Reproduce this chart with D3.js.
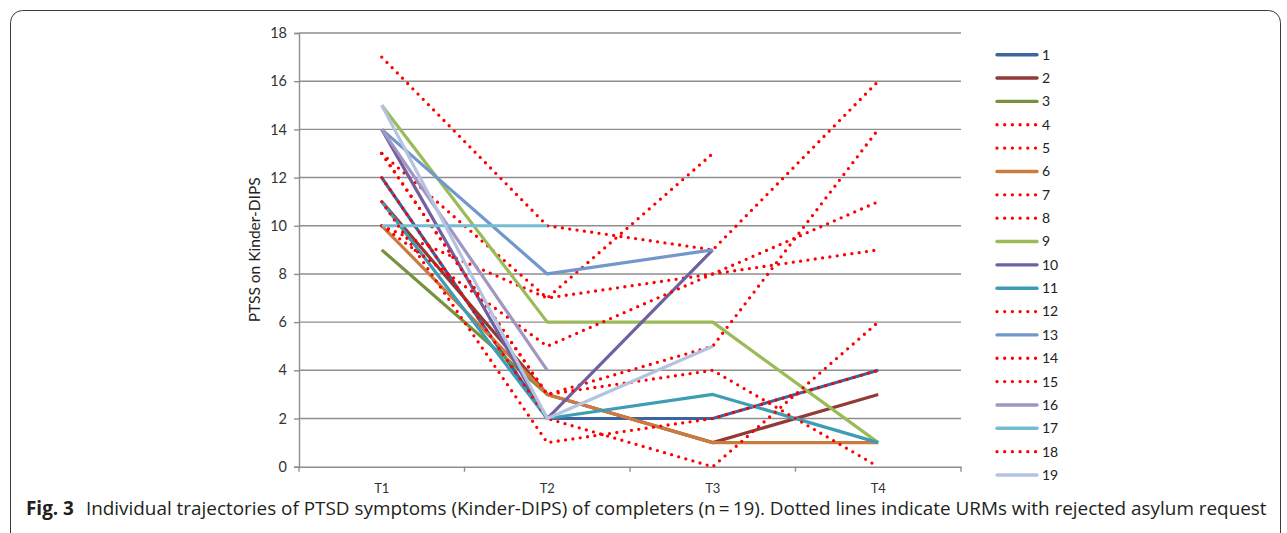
<!DOCTYPE html>
<html>
<head>
<meta charset="utf-8">
<script src="https://cdn.jsdelivr.net/npm/d3@7"></script>
<style>
  html, body { margin: 0; padding: 0; background: #fff; }
  svg { display: block; }
</style>
</head>
<body>
<svg id="chart" width="1287" height="533"></svg>
<script>
// ---- data ----
const categories = ["T1", "T2", "T3", "T4"];
const yTicks = [0, 2, 4, 6, 8, 10, 12, 14, 16, 18];
const participants = ["1","2","3","4","5","6","7","8","9","10","11","12","13","14","15","16","17","18","19"];
const p1  = [12, 2, 2, 4];
const p2  = [11, 3, 1, 3];
const p3  = [9, 3, null, null];
const p4  = [17, 10, 9, 16];
const p5  = [13, 7, 13, null];
const p6  = [10, 3, 1, 1];
const p7  = [13, 3, 5, 14];
const p8  = [10, 7, 8, 9];
const p9  = [15, 6, 6, 1];
const p10 = [14, 2, 9, null];
const p11 = [11, 2, 3, 1];
const p12 = [13, 3, 4, 0];
const p13 = [14, 8, 9, null];
const p14 = [10, 5, 8, 11];
const p15 = [12, 2, 0, 6];
const p16 = [14, 4, null, null];
const p17 = [10, 10, null, null];
const p18 = [11, 1, 2, 4];
const p19 = [15, 2, 5, null];
const seriesValues = [p1,p2,p3,p4,p5,p6,p7,p8,p9,p10,p11,p12,p13,p14,p15,p16,p17,p18,p19];
// rejected asylum request (dotted)
const rejected = ["4","5","7","8","12","14","15","18"];

// ---- styles ----
const colors = {
  "1": "#3b64a0", "2": "#923a38", "3": "#76923c", "6": "#c97c3e", "9": "#9bbb59",
  "10": "#7060a0", "11": "#3e9db5", "13": "#7297cb", "16": "#a395c3",
  "17": "#74bcd0", "19": "#b3c3e0"
};
const dotColor = "#ff0000";
const chartFont = "Lato, 'Open Sans', sans-serif";

const svg = d3.select("#chart");

// frame
svg.append("rect")
  .attr("x", 10.5).attr("y", 10.5)
  .attr("width", 1270).attr("height", 560)
  .attr("rx", 12).attr("ry", 12)
  .attr("fill", "none").attr("stroke", "#3a3a3a").attr("stroke-width", 1);

const x = d3.scaleBand().domain(categories).range([299, 961]).padding(0);
const y = d3.scaleLinear().domain([0, 18]).range([466.7, 33]);
const cx = c => x(c) + x.bandwidth() / 2;

// gridlines
svg.append("g").selectAll("line").data(yTicks.filter(t => t > 0)).join("line")
  .attr("x1", 299).attr("x2", 961)
  .attr("y1", d => y(d)).attr("y2", d => y(d))
  .attr("stroke", "#8e8e8e").attr("stroke-width", 1.4);

// y axis
const yAxis = svg.append("g").attr("transform", "translate(299,0)")
  .call(d3.axisLeft(y).tickValues(yTicks).tickSize(5).tickPadding(7));
yAxis.select(".domain").attr("stroke", "#8e8e8e").attr("stroke-width", 1.4);
yAxis.selectAll(".tick line").attr("stroke", "#8e8e8e").attr("stroke-width", 1.4);
yAxis.selectAll("text").attr("font-family", chartFont).attr("font-size", 14.5).attr("fill", "#333");

// x axis
const xAxis = svg.append("g").attr("transform", `translate(0,${y(0)})`)
  .call(d3.axisBottom(x).tickSize(0).tickPadding(17));
xAxis.select(".domain").attr("stroke", "#8e8e8e").attr("stroke-width", 1.4);
xAxis.selectAll("text").attr("font-family", chartFont).attr("font-size", 13).attr("fill", "#333");
svg.append("g").selectAll("line").data(categories.concat(["end"])).join("line")
  .attr("x1", (d, i) => 299 + i * x.bandwidth()).attr("x2", (d, i) => 299 + i * x.bandwidth())
  .attr("y1", y(0)).attr("y2", y(0) + 5)
  .attr("stroke", "#8e8e8e").attr("stroke-width", 1.4);

// y title
svg.append("text")
  .attr("transform", `translate(260,${(y(0) + y(18)) / 2}) rotate(-90)`)
  .attr("text-anchor", "middle")
  .attr("font-family", chartFont).attr("font-size", 15.5).attr("fill", "#222")
  .text("PTSS on Kinder-DIPS");

// lines
const line = d3.line()
  .defined(d => d.v !== null)
  .x(d => cx(d.c))
  .y(d => y(d.v));

participants.forEach((name, i) => {
  const pts = categories.map((c, j) => ({ c, v: seriesValues[i][j] }));
  const dotted = rejected.includes(name);
  const p = svg.append("path").datum(pts)
    .attr("d", line)
    .attr("fill", "none");
  if (dotted) {
    p.attr("stroke", dotColor).attr("stroke-width", 3.3)
     .attr("stroke-linecap", "round").attr("stroke-dasharray", "0 7.4");
  } else {
    p.attr("stroke", colors[name]).attr("stroke-width", 3.2)
     .attr("stroke-linejoin", "round");
  }
});

// legend
const lg = svg.append("g");
participants.forEach((name, i) => {
  const yy = 54.7 + i * 23.35;
  const dotted = rejected.includes(name);
  const l = lg.append("line").attr("x1", 997).attr("x2", 1037).attr("y1", yy).attr("y2", yy);
  if (dotted) {
    l.attr("stroke", dotColor).attr("stroke-width", 3.3)
     .attr("stroke-linecap", "round").attr("stroke-dasharray", "0 7.7");
  } else {
    l.attr("stroke", colors[name]).attr("stroke-width", 3.4).attr("stroke-linecap", "round");
  }
  lg.append("text").attr("x", 1042).attr("y", yy).attr("dy", "0.35em")
    .attr("font-family", chartFont).attr("font-size", 14).attr("fill", "#222")
    .text(name);
});

// caption
const cap = svg.append("text").attr("x", 26).attr("y", 515)
  .attr("font-family", "'Open Sans', 'Noto Sans', sans-serif").attr("font-size", 18.9).attr("fill", "#231f20");
cap.append("tspan").attr("font-weight", "bold").text("Fig. 3");
cap.append("tspan").attr("dx", 12)
  .text("Individual trajectories of PTSD symptoms (Kinder-DIPS) of completers (n\u2009=\u200919). Dotted lines indicate URMs with rejected asylum request");
</script>
</body>
</html>
